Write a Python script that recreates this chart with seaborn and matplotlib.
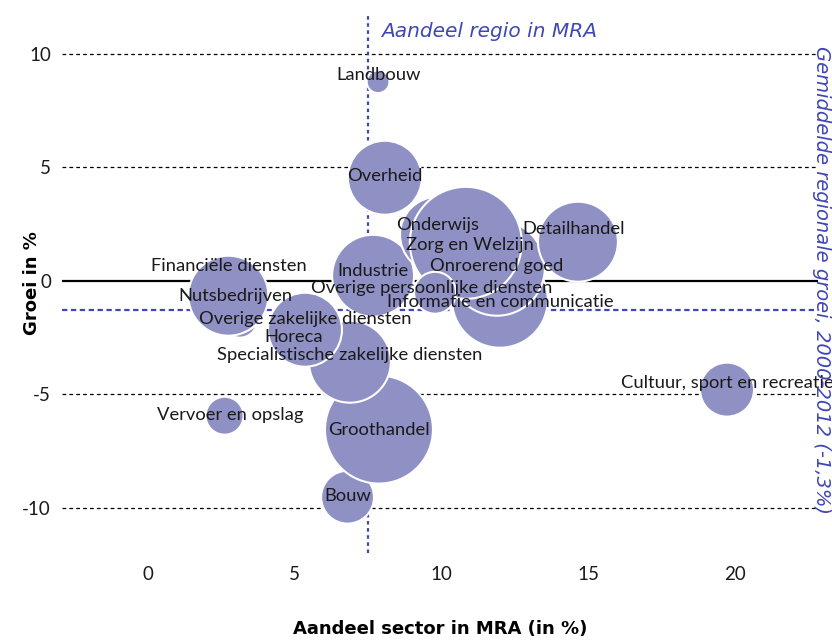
import matplotlib
matplotlib.use("Agg")
import matplotlib.pyplot as plt
import seaborn as sns
import pandas as pd

# ---------------- data ----------------
sectors = [
    "Horeca", "Nutsbedrijven", "Financiële diensten", "Landbouw", "Overheid",
    "Bouw", "Groothandel", "Specialistische zakelijke diensten",
    "Overige zakelijke diensten", "Industrie", "Informatie en communicatie",
    "Onroerend goed", "Onderwijs", "Zorg en Welzijn",
    "Overige persoonlijke diensten", "Detailhandel",
    "Cultuur, sport en recreatie", "Vervoer en opslag",
]
share = [4.97, 3.13, 2.74, 7.84, 8.07,
         6.80, 7.87, 6.88,
         5.35, 7.67, 11.99,
         11.89, 9.88, 10.83,
         9.78, 14.65,
         19.73, 2.61]
growth = [-2.60, -1.76, -0.66, 8.77, 4.54,
          -9.54, -6.56, -3.57,
          -2.16, 0.22, -0.84,
          0.57, 2.03, 1.67,
          -0.53, 1.72,
          -4.80, -5.95]
bubble_size = [23, 29, 160, 13, 137,
               70, 292, 168,
               137, 168, 230,
               230, 144, 314,
               44, 160,
               73, 36]

x_ticks = [0, 5, 10, 15, 20]
y_ticks = [-10, -5, 0, 5, 10]
regio_share = 7.5      # Aandeel regio in MRA
avg_growth = -1.3      # Gemiddelde regionale groei 2000-2012

# label nudges in pixels (dx, dy; dy positive = downwards)
label_nudge = {
    "Landbouw": (0, -7), "Overheid": (0, -2), "Onderwijs": (0, -10),
    "Zorg en Welzijn": (4, 2), "Detailhandel": (-4, -13),
    "Financiële diensten": (0, -30), "Industrie": (0, -5),
    "Onroerend goed": (0, -2), "Nutsbedrijven": (-4, -25),
    "Overige persoonlijke diensten": (-3, -5),
    "Informatie en communicatie": (0, 2),
    "Overige zakelijke diensten": (0, -11), "Horeca": (0, -3),
    "Specialistische zakelijke diensten": (0, -7),
    "Cultuur, sport en recreatie": (0, -7), "Vervoer en opslag": (6, -1),
    "Groothandel": (0, 0), "Bouw": (0, -1),
}

df = pd.DataFrame({"sector": sectors, "share": share,
                   "growth": growth, "size": bubble_size})

# ---------------- style ----------------
sns.set_theme(style="white")
plt.rcParams["font.family"] = ["Lato", "DejaVu Sans"]
plt.rcParams["axes.unicode_minus"] = False

BUBBLE = "#8f90c4"
BLUE = "#3f47b5"

fig = plt.figure(figsize=(8.32, 6.43), dpi=100)
ax = fig.add_axes([62 / 832, (643 - 553) / 643, (818 - 62) / 832, 540 / 643])

# reference lines (behind bubbles)
for yv in y_ticks:
    if yv == 0:
        ax.axhline(yv, color="black", lw=1.6, zorder=0)
    else:
        ax.axhline(yv, color="black", lw=0.9, ls=(0, (3, 2.5)), zorder=0)
ax.axvline(regio_share, color=BLUE, lw=1.6, ls=(0, (1.6, 1.6)), zorder=1)
ax.axhline(avg_growth, color=BLUE, lw=1.6, ls=(0, (2.4, 1.6)), zorder=1)

vmax = 400
sns.scatterplot(data=df, x="share", y="growth", size="size",
                sizes=(0, 20.7 * vmax), size_norm=(0, vmax),
                color=BUBBLE, edgecolor="white", linewidth=1.5,
                alpha=1, legend=False, ax=ax, zorder=3)

for name, xv, yv in zip(sectors, share, growth):
    dx, dy = label_nudge.get(name, (0, 0))
    ax.annotate(name, (xv, yv), xytext=(dx * 0.72, -dy * 0.72),
                textcoords="offset points", ha="center", va="center",
                fontsize=13.2, color="#1a1a1a", zorder=5,
                annotation_clip=False)

ax.set_xlim(-2.93, 22.83)
ax.set_ylim(-12.0, 11.8)
ax.set_xticks(x_ticks)
ax.set_yticks(y_ticks)
ax.tick_params(length=0, labelsize=13.5, colors="#1a1a1a")
ax.tick_params(axis="x", pad=9)
ax.tick_params(axis="y", pad=8)
sns.despine(ax=ax, left=True, bottom=True, top=True, right=True)
ax.grid(False)

ax.set_xlabel("Aandeel sector in MRA (in %)", fontsize=13,
              fontweight="bold", color="black", family=["DejaVu Sans"])
ax.xaxis.set_label_coords(0.5, -0.125)
ax.set_ylabel("Groei in %", fontsize=13, fontweight="bold", color="black",
              family=["DejaVu Sans"])
ax.yaxis.set_label_coords(-0.028, 0.5)

ax.annotate("Aandeel regio in MRA", (regio_share, 11.0), xytext=(9, 0),
            textcoords="offset points", ha="left", va="center",
            fontsize=14.5, style="italic", color=BLUE,
            family=["DejaVu Sans"], annotation_clip=False)
fig.text(822 / 832, 1 - 280 / 643,
         "Gemiddelde regionale groei, 2000-2012 (-1,3%)",
         rotation=-90, ha="center", va="center", fontsize=14,
         style="italic", color=BLUE, family=["DejaVu Sans"])

fig.savefig("out.png", dpi=100)
